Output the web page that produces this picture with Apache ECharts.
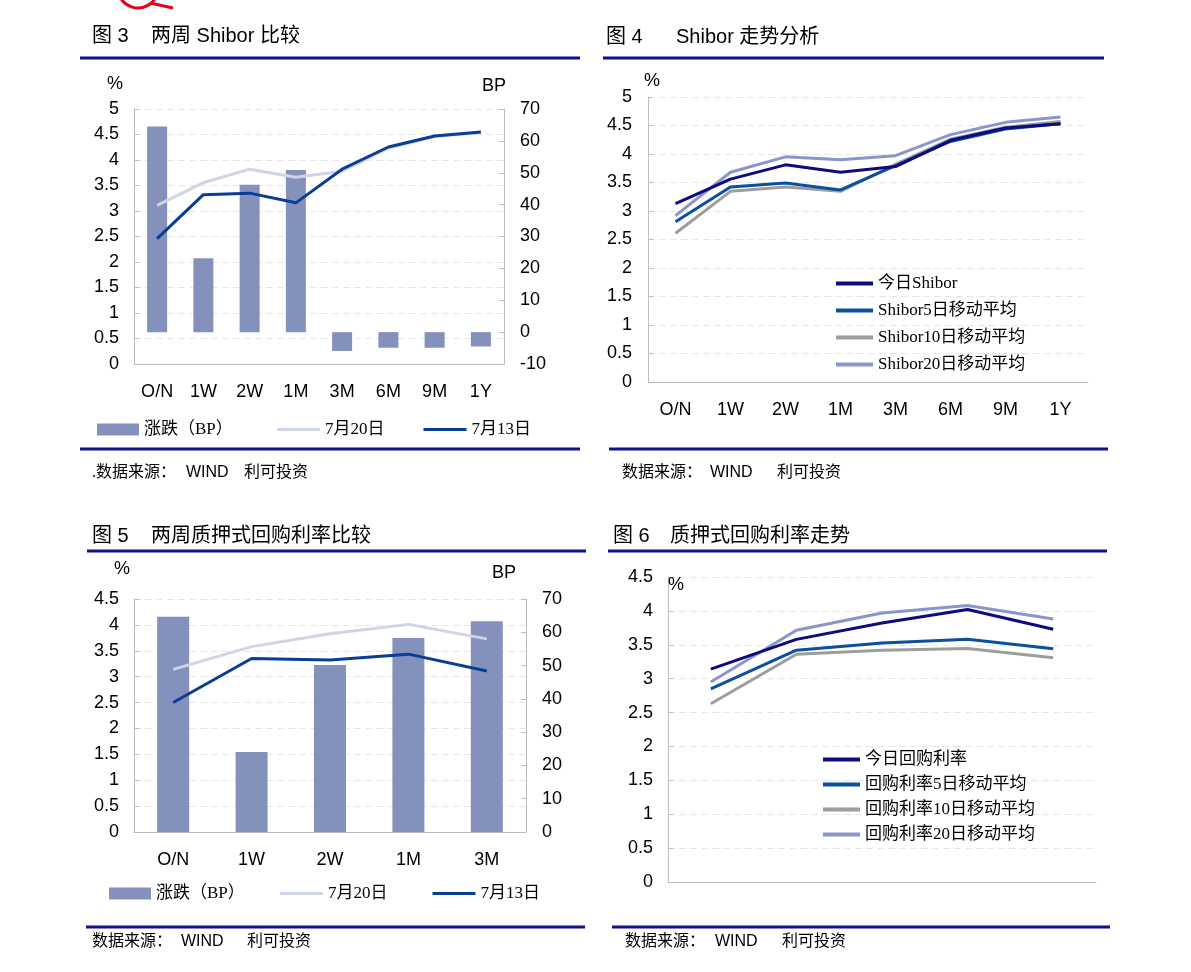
<!DOCTYPE html>
<html>
<head>
<meta charset="utf-8">
<script src="https://cdn.jsdelivr.net/npm/echarts@6/dist/echarts.min.js"></script>
<style>
html,body{margin:0;padding:0;background:#fff;}
#main{width:1191px;height:972px;}
</style>
</head>
<body>
<div id="main"></div>
<script>
// ---------- DATA ----------
const cats8 = ['O/N', '1W', '2W', '1M', '3M', '6M', '9M', '1Y'];
const cats5 = ['O/N', '1W', '2W', '1M', '3M'];

// 图3 两周 Shibor 比较
const shiborChangeBP = [64.5, 23.2, 46.2, 50.9, -5.9, -4.9, -4.9, -4.5];
const shibor0720 = [3.11, 3.555, 3.82, 3.66, 3.78, 4.23, 4.46, 4.535];
const shibor0713 = [2.46, 3.32, 3.35, 3.16, 3.82, 4.255, 4.47, 4.55];

// 图4 Shibor 走势分析
const shiborToday = [3.13, 3.56, 3.81, 3.68, 3.78, 4.24, 4.455, 4.53];
const shiborMA5 = [2.81, 3.42, 3.49, 3.37, 3.795, 4.22, 4.44, 4.53];
const shiborMA10 = [2.61, 3.345, 3.42, 3.345, 3.82, 4.26, 4.47, 4.57];
const shiborMA20 = [2.92, 3.68, 3.95, 3.90, 3.97, 4.34, 4.555, 4.65];

// 图5 两周质押式回购利率比较
const repoChangeBP = [64.7, 24.0, 50.2, 58.3, 63.3];
const repo0720 = [3.14, 3.58, 3.83, 4.01, 3.73];
const repo0713 = [2.50, 3.35, 3.32, 3.435, 3.11];

// 图6 质押式回购利率走势
const repoToday = [3.14, 3.58, 3.82, 4.02, 3.73];
const repoMA5 = [2.85, 3.42, 3.525, 3.58, 3.44];
const repoMA10 = [2.63, 3.36, 3.42, 3.445, 3.31];
const repoMA20 = [2.95, 3.715, 3.97, 4.08, 3.88];

// ---------- STYLE ----------
const SANS = 'Liberation Sans, Arial, Noto Sans CJK SC';
const CJK = 'Liberation Serif, Noto Sans CJK SC';
const NAVY = '#10108a';
const AXIS = '#bdbdbd';
const GRIDC = '#e6e6e6';
const C_BAR = '#8591bd', C_LIGHT = '#cfd4e7', C_DARK = '#083e93';
const C_TODAY = '#0c0c80', C_MA5 = '#0a509d', C_MA10 = '#9d9d9d', C_MA20 = '#8a96c7';

function xAx(gridIndex, data, showLabel) {
  return {
    type: 'category', gridIndex, data,
    axisLine: {lineStyle: {color: AXIS, width: 1}},
    axisTick: {inside: true, length: 7, lineStyle: {color: AXIS}},
    axisLabel: {show: showLabel, color: '#000', fontSize: 18, fontFamily: SANS, margin: 19},
    splitLine: {show: false}
  };
}
function yAx(gridIndex, min, max, interval, pos, split, margin) {
  return {
    type: 'value', gridIndex, min, max, interval, position: pos,
    axisLine: {show: true, lineStyle: {color: AXIS, width: 1}},
    axisTick: {show: true, inside: true, length: 5, lineStyle: {color: AXIS}},
    axisLabel: {color: '#000', fontSize: 18, fontFamily: SANS, margin: margin},
    splitLine: {show: split, lineStyle: {color: GRIDC, type: [7, 4], width: 1}}
  };
}
function line(name, data, color, xi, yi, z) {
  return {
    type: 'line', name, data, xAxisIndex: xi, yAxisIndex: yi,
    symbol: 'none', showSymbol: false, z: z || 3,
    lineStyle: {color, width: 3}, itemStyle: {color}
  };
}
function txt(x, y, text, size, family, align) {
  return {
    type: 'text', z: 100,
    style: {
      x, y, text, fill: '#000',
      font: size + 'px ' + family,
      textAlign: align || 'left', textVerticalAlign: 'middle',
      align: align || 'left', verticalAlign: 'middle'
    }
  };
}
function hline(x1, x2, y) {
  return {type: 'line', z: 100, shape: {x1, y1: y, x2, y2: y}, style: {stroke: NAVY, lineWidth: 3}};
}
function legendBox(left, top, names, w, h, gap, orient) {
  return {
    orient: orient || 'horizontal', left, top, itemWidth: w, itemHeight: h, itemGap: gap,
    padding: 0, icon: 'rect',
    data: names.map(n => ({name: n, icon: 'rect'})),
    textStyle: {fontSize: 17, fontFamily: CJK, color: '#000', lineHeight: 17, padding: [0, 0, 0, 0]}
  };
}

const chart = echarts.init(document.getElementById('main'), null, {renderer: 'canvas'});

const option = {
  backgroundColor: '#fff',
  animation: false,
  grid: [
    {left: 134, top: 109, width: 370, height: 255},
    {left: 648, top: 97, width: 440, height: 285},
    {left: 134, top: 599, width: 392, height: 233},
    {left: 668, top: 577, width: 428, height: 305}
  ],
  xAxis: [
    xAx(0, cats8, true),
    xAx(1, cats8, true),
    xAx(2, cats5, true),
    xAx(3, cats5, false)
  ],
  yAxis: [
    yAx(0, 0, 5, 0.5, 'left', true, 15),
    yAx(0, -10, 70, 10, 'right', false, 16),
    yAx(1, 0, 5, 0.5, 'left', true, 16),
    yAx(2, 0, 4.5, 0.5, 'left', true, 15),
    yAx(2, 0, 70, 10, 'right', false, 16),
    yAx(3, 0, 4.5, 0.5, 'left', true, 15)
  ],
  legend: [
    legendBox(97, 421, ['涨跌（BP）'], 42, 12, 10),
    legendBox(277, 421, ['7月20日', '7月13日'], 43, 3, 39),
    legendBox(836, 275, ['今日Shibor', 'Shibor5日移动平均', 'Shibor10日移动平均', 'Shibor20日移动平均'], 37, 4, 10, 'vertical'),
    legendBox(109, 885, ['涨跌（BP）'], 42, 12, 10),
    legendBox(280, 885, ['7月20日', '7月13日'], 43, 3, 45),
    legendBox(823, 751, ['今日回购利率', '回购利率5日移动平均', '回购利率10日移动平均', '回购利率20日移动平均'], 37, 4, 8, 'vertical')
  ],
  series: [
    // 图3
    {type: 'bar', name: '涨跌（BP）', data: shiborChangeBP, xAxisIndex: 0, yAxisIndex: 1,
      barWidth: 20, itemStyle: {color: C_BAR}, z: 2},
    line('7月20日', shibor0720, C_LIGHT, 0, 0, 3),
    line('7月13日', shibor0713, C_DARK, 0, 0, 4),
    // 图4
    line('Shibor20日移动平均', shiborMA20, C_MA20, 1, 2, 3),
    line('Shibor10日移动平均', shiborMA10, C_MA10, 1, 2, 4),
    line('Shibor5日移动平均', shiborMA5, C_MA5, 1, 2, 5),
    line('今日Shibor', shiborToday, C_TODAY, 1, 2, 6),
    // 图5
    {type: 'bar', name: '涨跌（BP）', data: repoChangeBP, xAxisIndex: 2, yAxisIndex: 4,
      barWidth: 32, itemStyle: {color: C_BAR}, z: 2},
    line('7月20日', repo0720, C_LIGHT, 2, 3, 3),
    line('7月13日', repo0713, C_DARK, 2, 3, 4),
    // 图6
    line('回购利率20日移动平均', repoMA20, C_MA20, 3, 5, 3),
    line('回购利率10日移动平均', repoMA10, C_MA10, 3, 5, 4),
    line('回购利率5日移动平均', repoMA5, C_MA5, 3, 5, 5),
    line('今日回购利率', repoToday, C_TODAY, 3, 5, 6)
  ],
  graphic: [
    // logo fragment at top
    {type: 'arc', z: 100, shape: {cx: 138, cy: -12, r: 20, startAngle: 0.3, endAngle: 2.8},
      style: {stroke: '#e3001b', lineWidth: 3, fill: null}},
    {type: 'line', z: 100, shape: {x1: 150, y1: 3, x2: 173, y2: 8}, style: {stroke: '#e3001b', lineWidth: 3}},
    // titles
    txt(92, 36, '图 3', 20, SANS), txt(151, 36, '两周 Shibor 比较', 20, SANS),
    txt(606, 37, '图 4', 20, SANS), txt(676, 37, 'Shibor 走势分析', 20, SANS),
    txt(92, 536, '图 5', 20, SANS), txt(151, 536, '两周质押式回购利率比较', 20, SANS),
    txt(613, 536, '图 6', 20, SANS), txt(670, 536, '质押式回购利率走势', 20, SANS),
    // rules
    hline(80, 580, 58), hline(80, 580, 449),
    hline(603, 1104, 58), hline(609, 1108, 449),
    hline(87, 586, 551), hline(86, 585, 927),
    hline(608, 1107, 551), hline(612, 1110, 927),
    // units
    txt(107, 84, '%', 18, SANS), txt(482, 86, 'BP', 18, SANS),
    txt(644, 81, '%', 18, SANS),
    txt(114, 569, '%', 18, SANS), txt(492, 573, 'BP', 18, SANS),
    txt(668, 585, '%', 18, SANS),
    // sources
    txt(92, 473, '.数据来源：', 16, CJK), txt(186, 473, 'WIND', 16, SANS), txt(244, 473, '利可投资', 16, CJK),
    txt(622, 473, '数据来源：', 16, CJK), txt(710, 473, 'WIND', 16, SANS), txt(777, 473, '利可投资', 16, CJK),
    txt(92, 942, '数据来源：', 16, CJK), txt(181, 942, 'WIND', 16, SANS), txt(247, 942, '利可投资', 16, CJK),
    txt(625, 942, '数据来源：', 16, CJK), txt(715, 942, 'WIND', 16, SANS), txt(782, 942, '利可投资', 16, CJK)
  ]
};
chart.setOption(option);
</script>
</body>
</html>
